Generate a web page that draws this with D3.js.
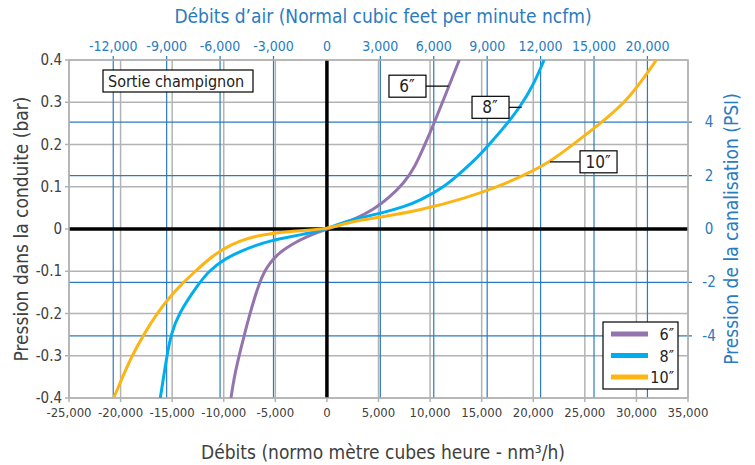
<!DOCTYPE html>
<html>
<head>
<meta charset="utf-8">
<script src="https://cdn.jsdelivr.net/npm/d3@7"></script>
<style>
  body { margin: 0; background: #fff; }
  text { font-family: "Liberation Sans Narrow", "DejaVu Sans Condensed", sans-serif; }
</style>
</head>
<body>
<div id="chart"></div>
<script>
// flow in nm3/h, pressure in bar
var pipe6 = [
  [-9300, -0.40], [-9000, -0.352], [-8500, -0.298], [-8000, -0.250], [-7500, -0.204],
  [-7000, -0.162], [-6500, -0.125], [-6000, -0.098], [-5500, -0.080], [-5000, -0.066],
  [-4500, -0.055], [-4000, -0.046], [-3000, -0.031], [-2000, -0.019], [-1000, -0.009], [0, 0],
  [1500, 0.012], [3000, 0.027], [4500, 0.046], [6000, 0.073], [7500, 0.110],
  [8500, 0.145], [9500, 0.200], [10300, 0.245], [11500, 0.318], [12830, 0.40]
];
var pipe8 = [
  [-16150, -0.40], [-15510, -0.30], [-15120, -0.25], [-14380, -0.20], [-12440, -0.13],
  [-11470, -0.10], [-9860, -0.07], [-8470, -0.054], [-6950, -0.0385], [-5250, -0.027],
  [-4380, -0.0227], [-2000, -0.011], [0, 0], [1300, 0.013], [2700, 0.024], [5400, 0.038],
  [7500, 0.053], [9000, 0.067], [11370, 0.10], [12660, 0.127], [14300, 0.162],
  [15730, 0.20], [17500, 0.25], [18750, 0.29], [20000, 0.34], [21050, 0.40]
];
var pipe10 = [
  [-20670, -0.40], [-19800, -0.35], [-18900, -0.30], [-17760, -0.25], [-16480, -0.20],
  [-15200, -0.16], [-14060, -0.13], [-12760, -0.10], [-11400, -0.07], [-10000, -0.046],
  [-8470, -0.028], [-6950, -0.017], [-5250, -0.010], [-2500, -0.004], [0, 0],
  [1700, 0.013], [3500, 0.022], [5400, 0.029], [8950, 0.044], [13310, 0.072],
  [16540, 0.10], [19120, 0.127], [21700, 0.16], [23640, 0.196], [26540, 0.25],
  [28900, 0.30], [30500, 0.35], [31930, 0.40]
];
var seriesNames = ['6\u2033', '8\u2033', '10\u2033'];
var seriesColors = ['#9474ae', '#00aeef', '#fdb515'];

var bottomTicks = [-25000, -20000, -15000, -10000, -5000, 0, 5000, 10000, 15000, 20000, 25000, 30000, 35000];
var leftTicks = [-0.4, -0.3, -0.2, -0.1, 0, 0.1, 0.2, 0.3, 0.4];
var topTicks = [-12000, -9000, -6000, -3000, 0, 3000, 6000, 9000, 12000, 15000, 18000];
var topTickLabels = ['-12,000', '-9,000', '-6,000', '-3,000', '0', '3,000', '6,000', '9,000', '12,000', '15,000', '20,000'];
var rightTicks = [-4, -2, 0, 2, 4];

// curve callouts: [series index, flow where leader meets curve, box centre flow, pressure]
var callouts = [
  [0, 11790, 7760, 0.338],
  [1, 18880, 15810, 0.288],
  [2, 21620, 26280, 0.159]
];

var width = 755, height = 465;
var margin = { left: 69, right: 67, top: 60, bottom: 67 };
var ncfmToNm3 = 1.726;   // as drawn on the chart
var barPerPsi = 0.0632;  // as drawn on the chart

var blueGrid = '#2a7bc0';
var grayGrid = '#b3b3b3';
var textBlue = '#2a7bc0';
var textGray = '#404040';

var svg = d3.select('#chart').append('svg')
  .attr('width', width).attr('height', height);

var x = d3.scaleLinear().domain([-25000, 35000]).range([margin.left, width - margin.right]);
var y = d3.scaleLinear().domain([-0.4, 0.4]).range([height - margin.bottom, margin.top]);
var xTop = d3.scaleLinear().domain(x.domain().map(function(d) { return d / ncfmToNm3; })).range(x.range());
var yRight = d3.scaleLinear().domain(y.domain().map(function(d) { return d / barPerPsi; })).range(y.range());

var x0 = margin.left, x1 = width - margin.right;
var y0 = margin.top, y1 = height - margin.bottom;

// gray grid
var grid = svg.append('g');
grid.selectAll('line.gx').data(bottomTicks).enter().append('line')
  .attr('x1', function(d) { return x(d); }).attr('x2', function(d) { return x(d); })
  .attr('y1', y0).attr('y2', y1 + 4)
  .attr('stroke', grayGrid).attr('stroke-width', 1.5);
grid.selectAll('line.gy').data(leftTicks).enter().append('line')
  .attr('x1', x0 - 4).attr('x2', x1)
  .attr('y1', function(d) { return y(d); }).attr('y2', function(d) { return y(d); })
  .attr('stroke', grayGrid).attr('stroke-width', 1.5);

// blue grid (secondary units)
grid.selectAll('line.bx').data(topTicks.filter(function(d) { return d !== 0; })).enter().append('line')
  .attr('x1', function(d) { return xTop(d); }).attr('x2', function(d) { return xTop(d); })
  .attr('y1', y0 - 4).attr('y2', y1)
  .attr('stroke', blueGrid).attr('stroke-width', 1.2);
grid.selectAll('line.by').data(rightTicks.filter(function(d) { return d !== 0; })).enter().append('line')
  .attr('x1', x0).attr('x2', x1 + 4)
  .attr('y1', function(d) { return yRight(d); }).attr('y2', function(d) { return yRight(d); })
  .attr('stroke', blueGrid).attr('stroke-width', 1.2);

// zero axes
svg.append('line').attr('x1', x0).attr('x2', x1).attr('y1', y(0)).attr('y2', y(0))
  .attr('stroke', '#000').attr('stroke-width', 3.5);
svg.append('line').attr('x1', x(0)).attr('x2', x(0)).attr('y1', y0).attr('y2', y1)
  .attr('stroke', '#000').attr('stroke-width', 3.5);

// tick labels
svg.append('g').selectAll('text').data(bottomTicks).enter().append('text')
  .attr('x', function(d) { return x(d); }).attr('y', y1 + 19)
  .attr('text-anchor', 'middle').attr('fill', textGray).style('font-size', '13px')
  .text(function(d) { return d3.format(',')(d).replace('\u2212', '-'); });
svg.append('g').selectAll('text').data(leftTicks).enter().append('text')
  .attr('x', x0 - 7).attr('y', function(d) { return y(d) + 5; })
  .attr('text-anchor', 'end').attr('fill', textGray).style('font-size', '15px')
  .text(function(d) { return d3.format('')(d).replace('\u2212', '-'); });
svg.append('g').selectAll('text').data(topTicks).enter().append('text')
  .attr('x', function(d) { return xTop(d); }).attr('y', y0 - 9)
  .attr('text-anchor', 'middle').attr('fill', textBlue).style('font-size', '14px')
  .text(function(d, i) { return topTickLabels[i]; });
svg.append('g').selectAll('text').data(rightTicks).enter().append('text')
  .attr('x', x1 + 21).attr('y', function(d) { return yRight(d) + 5; })
  .attr('text-anchor', 'middle').attr('fill', textBlue).style('font-size', '15px')
  .text(function(d) { return d3.format('')(d).replace('\u2212', '-'); });

// border
svg.append('rect').attr('x', x0).attr('y', y0).attr('width', x1 - x0).attr('height', y1 - y0)
  .attr('fill', 'none').attr('stroke', grayGrid).attr('stroke-width', 1.5);

// axis titles
svg.append('text').attr('x', 383).attr('y', 23).attr('text-anchor', 'middle')
  .attr('fill', textBlue).style('font-size', '19px')
  .text('D\u00e9bits d\u2019air (Normal cubic feet per minute ncfm)');
svg.append('text').attr('x', 383).attr('y', 459).attr('text-anchor', 'middle')
  .attr('fill', textGray).style('font-size', '19px')
  .text('D\u00e9bits (normo m\u00e8tre cubes heure - nm\u00b3/h)');
svg.append('text').attr('transform', 'translate(28,' + y(0) + ') rotate(-90)')
  .attr('text-anchor', 'middle').attr('fill', textGray).style('font-size', '19px')
  .text('Pression dans la conduite (bar)');
svg.append('text').attr('transform', 'translate(738,' + y(0) + ') rotate(-90)')
  .attr('text-anchor', 'middle').attr('fill', textBlue).style('font-size', '19px')
  .text('Pression de la canalisation (PSI)');

// curves
svg.append('clipPath').attr('id', 'plotclip').append('rect')
  .attr('x', x0).attr('y', y0).attr('width', x1 - x0).attr('height', y1 - y0);
var line = d3.line()
  .x(function(d) { return x(d[0]); })
  .y(function(d) { return y(d[1]); })
  .curve(d3.curveBasis);
var allSeries = [pipe6, pipe8, pipe10];
svg.append('g').attr('clip-path', 'url(#plotclip)')
  .selectAll('path').data(allSeries).enter().append('path')
  .attr('d', line)
  .attr('fill', 'none')
  .attr('stroke', function(d, i) { return seriesColors[i]; })
  .attr('stroke-width', 3);

// "Sortie champignon" box
var note = svg.append('g');
note.append('rect').attr('x', 103).attr('y', 70).attr('width', 150).attr('height', 22)
  .attr('fill', '#fff').attr('stroke', '#000').attr('stroke-width', 1.2);
note.append('text').attr('x', 108).attr('y', 86.5).attr('fill', '#222').style('font-size', '16px')
  .text('Sortie champignon');

// curve callouts
var co = svg.append('g').selectAll('g').data(callouts).enter().append('g');
co.append('line')
  .attr('x1', function(d) { return x(d[2]); })
  .attr('x2', function(d) { return x(d[1]); })
  .attr('y1', function(d) { return y(d[3]); })
  .attr('y2', function(d) { return y(d[3]); })
  .attr('stroke', '#000').attr('stroke-width', 1.2);
co.append('rect')
  .attr('x', function(d) { return x(d[2]) - 18; })
  .attr('y', function(d) { return y(d[3]) - 11; })
  .attr('width', 37).attr('height', 22)
  .attr('fill', '#fff').attr('stroke', '#000').attr('stroke-width', 1.2);
co.append('text')
  .attr('x', function(d) { return x(d[2]); })
  .attr('y', function(d) { return y(d[3]) + 6; })
  .attr('text-anchor', 'middle').attr('fill', '#222').style('font-size', '17px')
  .text(function(d) { return seriesNames[d[0]]; });

// legend
var legend = svg.append('g').attr('transform', 'translate(603,322)');
legend.append('rect').attr('width', 75).attr('height', 67)
  .attr('fill', '#fff').attr('stroke', '#000').attr('stroke-width', 1.2);
var item = legend.selectAll('g').data(seriesNames).enter().append('g')
  .attr('transform', function(d, i) { return 'translate(0,' + (12 + i * 21.5) + ')'; });
item.append('line').attr('x1', 8).attr('x2', 45).attr('y1', 0).attr('y2', 0)
  .attr('stroke', function(d, i) { return seriesColors[i]; }).attr('stroke-width', 5);
item.append('text').attr('x', 71).attr('y', 6).attr('text-anchor', 'end')
  .attr('fill', '#222').style('font-size', '16px')
  .text(function(d) { return d; });
</script>
</body>
</html>
